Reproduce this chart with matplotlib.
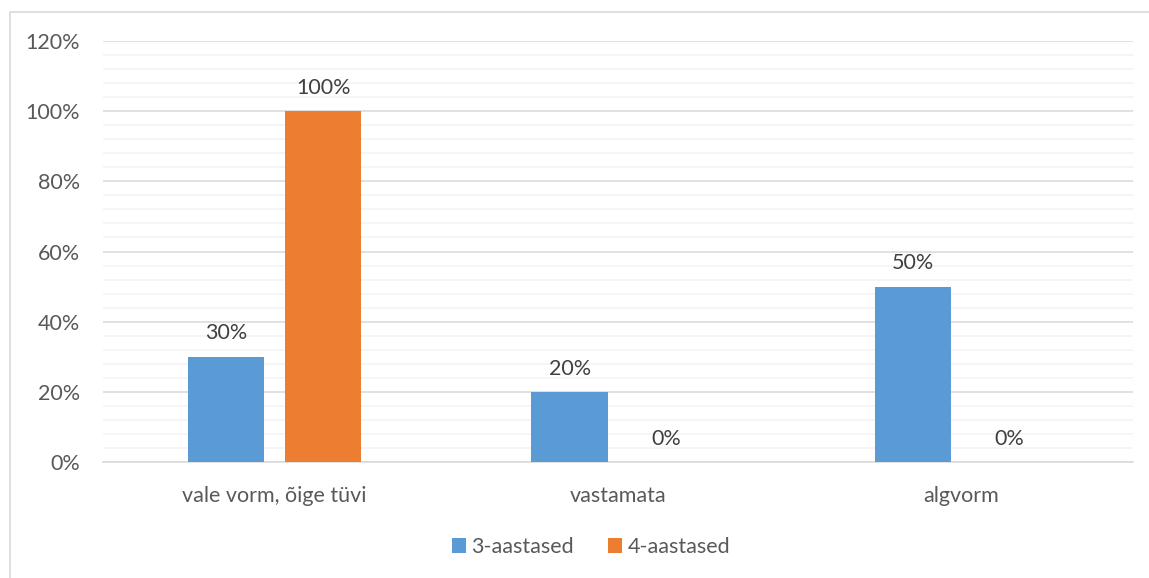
import matplotlib
matplotlib.use("Agg")
import matplotlib.pyplot as plt
from matplotlib.patches import Rectangle
import numpy as np

categories = ["vale vorm, õige tüvi", "vastamata", "algvorm"]
series_names = ["3-aastased", "4-aastased"]
values_3 = [30, 20, 50]
values_4 = [100, 0, 0]
y_ticks = [0, 20, 40, 60, 80, 100, 120]

colors = ["#5B9BD5", "#ED7D31"]
text_color = "#595959"
fs = 15.5

plt.rcParams["font.family"] = ["Lato", "DejaVu Sans"]

W, H = 1149, 578
fig = plt.figure(figsize=(W / 100, H / 100), dpi=100)

# outer chart frame
fig.patches.append(Rectangle((10 / W, -0.1), 1.2, (H - 12) / H + 0.1,
                             transform=fig.transFigure, fill=False,
                             edgecolor="#D9D9D9", linewidth=1.2))

ax = fig.add_axes([103 / W, (H - 462) / H, (1133 - 103) / W, (462 - 41) / H])

x = np.arange(len(categories))
bw = 0.222
off = 0.141
bars = []
for i, (vals, c) in enumerate(zip([values_3, values_4], colors)):
    b = ax.bar(x + (i * 2 - 1) * off, vals, bw, color=c, label=series_names[i], zorder=3)
    bars.append(b)
    for xi, v in zip(x + (i * 2 - 1) * off, vals):
        ax.text(xi, v + 3.8, f"{v}%", ha="center", va="bottom",
                fontsize=fs, color="#404040")

ax.set_xlim(-0.5, 2.5)
ax.set_ylim(0, 120)
ax.set_yticks(y_ticks)
ax.set_yticklabels([f"{t}%" for t in y_ticks])
ax.set_yticks(np.arange(0, 121, 4), minor=True)
ax.grid(axis="y", which="major", color="#D9D9D9", linewidth=1.1, zorder=0)
ax.grid(axis="y", which="minor", color="#F2F2F2", linewidth=1.1, zorder=0)
ax.set_xticks(x)
ax.set_xticklabels(categories)
ax.tick_params(axis="both", which="both", length=0, labelsize=fs, labelcolor=text_color)
ax.tick_params(axis="x", pad=17)
ax.tick_params(axis="y", pad=16.5)
for s in ["top", "right", "left"]:
    ax.spines[s].set_visible(False)
ax.spines["bottom"].set_color("#D9D9D9")
ax.spines["bottom"].set_linewidth(1.1)

fig.legend(handles=bars, labels=series_names, loc="center",
           bbox_to_anchor=(591 / W, (H - 547) / H), ncol=2, frameon=False,
           fontsize=fs, handlelength=0.65, handleheight=0.65, handletextpad=0.25,
           columnspacing=1.6, labelcolor=text_color)

fig.savefig("out.png", dpi=100, facecolor="white")
